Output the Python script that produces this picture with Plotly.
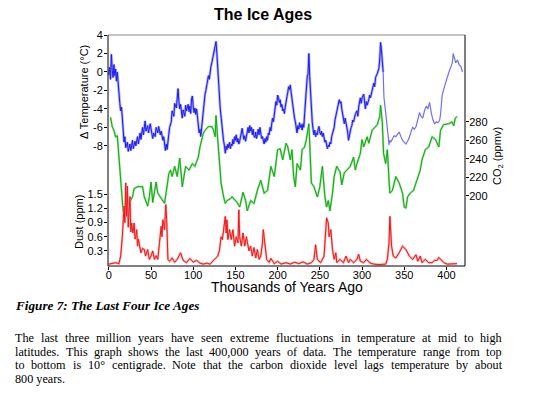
import plotly.graph_objects as go

# ---------------- data ----------------
temp_age = [0, 1, 2, 3, 4, 5, 6, 7, 8, 9, 10, 11, 12, 13, 14, 15, 16, 17, 18, 19, 20, 22, 23, 25, 26, 28, 29,
            31, 32, 34, 35, 37, 38, 40, 41, 43, 44, 46, 47, 49, 50, 52, 53, 55, 56, 58, 59, 61, 62, 64, 65,
            66, 67, 68, 69, 71, 72, 74, 75, 77, 78, 80, 81, 82, 83, 84, 85, 86, 87, 88, 90, 91, 92, 94, 95,
            96, 97, 98, 99, 100, 101, 102, 103, 104, 105, 106, 107, 108, 109, 110, 111, 112, 113, 114, 115,
            116, 117, 118, 119, 120, 121, 122, 123, 124, 125, 126, 127, 128, 128.5, 129, 130, 131, 132, 133,
            134, 135, 136, 137, 138, 139, 140, 141, 142, 143, 144, 145, 146, 147, 148, 149, 150, 151, 152,
            153, 154, 155, 156, 157, 158, 159, 160, 161, 162, 163, 164, 165, 166, 167, 168, 169, 170, 171,
            172, 173, 174, 175, 176, 177, 178, 179, 180, 181, 182, 183, 184, 185, 186, 187, 188, 189, 190,
            191, 192, 193, 194, 195, 196, 197, 198, 199, 200, 201, 202, 203, 204, 205, 206, 207, 208, 209,
            210, 211, 212, 213, 214, 215, 216, 217, 218, 219, 220, 221, 222, 223, 224, 225, 226, 227, 228,
            229, 230, 231, 232, 233, 234, 235, 236, 237, 238, 239, 240, 241, 242, 243, 244, 245, 246, 247,
            248, 249, 250, 251, 252, 253, 254, 255, 256, 257, 258, 259, 260, 261, 262, 263, 264, 265, 266,
            267, 268, 269, 270, 271, 272, 273, 274, 275, 276, 277, 278, 279, 280, 281, 282, 283, 284, 285,
            286, 287, 288, 289, 290, 292, 294, 295, 296, 298, 299, 300, 302, 303, 304, 305, 306, 308, 309,
            310, 312, 314, 315, 316, 318, 320, 321, 322, 323, 324, 325, 326, 328, 330, 331, 332, 333, 334,
            336, 338, 340, 342, 344, 346, 348, 350, 352, 354, 356, 358, 360, 362, 364, 366, 368, 370, 372,
            374, 376, 378, 380, 382, 384, 386, 388, 390, 392, 393, 395, 397, 399, 401, 403, 405, 407, 408,
            409, 411, 413, 415, 417, 419]
temp_val = [-0.3, 0.5, -0.8, 1.9, 0.2, -0.6, 0.8, -0.4, 0.3, -1.0, 0.0, -1.6, -2.2, -3.4, -4.2, -3.8, -5.0,
            -6.4, -7.6, -7.0, -8.2, -7.6, -8.6, -7.8, -8.5, -7.4, -8.3, -7.5, -8.0, -7.0, -7.8, -6.6, -7.3,
            -6.0, -6.8, -5.3, -6.4, -5.8, -6.6, -5.6, -6.2, -7.2, -6.6, -7.0, -6.0, -6.6, -5.9, -6.8, -6.4,
            -7.4, -7.0, -8.0, -8.5, -7.8, -8.4, -6.8, -6.0, -5.4, -4.2, -4.8, -3.4, -3.9, -2.4, -1.8, -3.2,
            -4.0, -3.5, -4.6, -5.0, -4.1, -4.8, -3.6, -4.2, -3.5, -4.3, -3.7, -4.5, -2.9, -2.6, -3.8, -4.4,
            -3.9, -4.6, -4.0, -5.2, -6.0, -6.6, -6.2, -7.0, -6.0, -5.0, -4.4, -3.0, -2.4, -2.0, -1.4, -1.0,
            -0.4, -0.8, 0.2, 0.6, 1.0, 1.5, 2.0, 2.4, 2.8, 3.3, 2.0, 1.0, 1.5, -0.5, -2.5, -4.0, -5.0, -6.0,
            -6.6, -7.5, -8.0, -8.8, -8.0, -8.4, -7.8, -8.2, -7.6, -8.3, -7.8, -8.0, -7.3, -7.8, -7.0, -7.4,
            -6.8, -7.6, -7.2, -7.8, -7.5, -7.0, -6.6, -6.1, -6.8, -7.3, -6.9, -7.5, -7.0, -6.5, -6.0, -6.6,
            -5.8, -6.4, -6.0, -6.8, -6.2, -6.9, -7.1, -6.5, -7.2, -6.8, -6.2, -6.8, -6.0, -6.6, -7.2, -7.0,
            -7.6, -7.8, -7.2, -7.6, -7.0, -7.4, -6.6, -6.8, -6.0, -6.4, -5.6, -5.0, -5.4, -4.8, -4.0, -3.2,
            -3.6, -2.5, -2.8, -3.3, -3.0, -3.8, -3.5, -4.2, -4.0, -4.5, -3.8, -3.0, -2.7, -2.2, -1.6, -1.9,
            -1.4, -2.2, -3.0, -3.8, -4.4, -5.0, -5.4, -6.0, -6.6, -5.8, -6.2, -5.5, -6.0, -5.7, -6.3, -5.6,
            -6.0, -4.5, -2.8, -2.0, -0.6, -0.2, 2.0, -0.5, -2.7, -4.0, -5.4, -6.2, -6.8, -6.3, -7.0, -6.6,
            -6.8, -6.2, -5.9, -6.5, -6.8, -6.4, -7.0, -6.6, -7.2, -7.6, -7.4, -8.0, -8.3, -7.9, -8.1, -7.6,
            -7.8, -7.0, -6.6, -6.2, -6.0, -5.2, -4.8, -4.4, -4.0, -3.6, -3.0, -3.4, -3.2, -4.0, -4.6, -5.2,
            -5.6, -5.0, -5.4, -6.0, -6.5, -7.4, -6.8, -6.2, -6.0, -5.8, -5.2, -5.4, -4.6, -4.2, -4.8, -3.8,
            -2.8, -3.4, -2.8, -2.4, -3.0, -4.0, -3.2, -3.6, -3.0, -2.5, -2.8, -1.8, -1.2, -1.6, -0.6, -0.2,
            0.4, 1.4, 3.2, 2.4, 1.5, 0.0, -2.8, -4.4, -5.8, -7.0, -7.9, -7.4, -7.6, -7.2, -6.9, -7.0, -6.7,
            -6.5, -7.0, -7.4, -7.6, -7.8, -7.5, -7.1, -6.5, -6.0, -6.2, -5.9, -5.2, -4.4, -4.8, -5.0, -4.2,
            -3.7, -4.0, -3.3, -4.4, -5.2, -5.6, -5.4, -5.5, -5.2, -4.6, -2.5, -1.8, -1.1, -0.4, 0.0, 0.5,
            1.0, 2.0, 1.6, 1.0, 1.3, 0.8, 0.6, 0.0]

co2_age = [2, 4, 6, 8, 10, 12, 13, 14, 15.5, 17, 20, 24, 28, 30, 34, 40, 42, 46, 48, 50, 52, 54, 56, 58,
           62, 66, 70, 71, 73, 75, 78, 81, 84, 87, 91, 95, 99, 102, 104, 106, 108, 112, 114, 118, 122, 124,
           126, 127, 129, 131, 133, 136, 138, 140, 144, 146, 152, 155, 159, 162, 164, 168, 172, 176, 180,
           184, 188, 192, 196, 200, 203, 206, 210, 212, 215, 217, 219, 221, 223, 227, 229, 232, 234, 237,
           238, 240, 243, 247, 250, 253, 256, 258, 260, 262, 265, 267, 270, 274, 276, 279, 282, 286, 290,
           292, 294, 298, 300, 302, 306, 308, 312, 314, 318, 321, 322, 324, 325.5, 328, 330, 332, 333, 336,
           340, 344, 348, 350, 352, 354, 357, 361, 365, 369, 371, 375, 379, 383, 387, 391, 393, 396.5,
           402.5, 406.6, 408.6, 410.5, 412.5]
co2_val = [285, 275, 271, 264, 265, 239, 237, 224, 203, 183, 188, 192, 199, 208, 210, 210, 199, 189, 199,
           215, 193, 203, 215, 203, 197, 192, 217, 224, 228, 221, 232, 221, 241, 210, 232, 228, 235, 232,
           237, 242, 253, 268, 271, 275, 275, 271, 264, 287, 261, 235, 214, 199, 192, 195, 197, 199, 193,
           188, 204, 195, 184, 195, 192, 206, 217, 203, 206, 232, 221, 250, 251, 239, 257, 253, 239, 250,
           221, 210, 235, 228, 250, 253, 261, 278, 253, 214, 210, 199, 210, 232, 199, 188, 195, 184, 203,
           221, 232, 226, 212, 225, 228, 232, 242, 228, 235, 246, 261, 253, 264, 257, 271, 273, 277, 286,
           298, 280, 246, 235, 250, 217, 203, 206, 221, 214, 203, 188, 187, 199, 203, 206, 217, 228, 239,
           250, 253, 264, 261, 253, 271, 277, 278, 280, 276, 284, 286]

dust_age = [0, 4, 8, 12, 14, 16, 18, 19, 20, 21, 22, 23, 24, 25, 26, 27, 28.5, 30, 31, 32, 33, 34, 35, 36,
            38, 40, 42, 43.5, 46, 48, 50, 52, 54, 56, 58, 60, 62, 63, 64, 66, 67.5, 68.5, 70, 72, 75, 78,
            81, 85, 88, 92, 96, 100, 104, 108, 112, 116, 120, 125, 129, 131, 133, 134.5, 136, 138, 139,
            140, 141, 143, 145, 147, 149, 151, 153, 154, 155, 157, 159, 161, 163, 166, 168, 170, 172, 174,
            176, 178, 180, 182, 183, 185, 187, 190, 192, 196, 200, 204, 210, 215, 220, 225, 230, 235, 240,
            243, 245, 247, 251, 255, 257, 258, 260, 261, 263, 265, 267, 269, 270, 274, 278, 281, 284, 286,
            290, 294, 296, 298, 302, 305, 310, 314, 320, 328, 330, 332, 333, 334, 335, 337, 340, 344, 348,
            352, 356, 360, 364, 366, 369, 371, 375, 379, 383, 386, 389, 391, 393, 397, 401, 408, 412.5]
dust_val = [0.02, 0.03, 0.05, 0.03, 0.19, 0.6, 1.25, 0.9, 1.74, 1.03, 1.67, 0.8, 1.2, 1.45, 0.7, 0.89,
            0.68, 0.89, 0.55, 0.6, 0.75, 0.4, 0.55, 0.47, 0.26, 0.35, 0.33, 0.19, 0.33, 0.12, 0.19, 0.3,
            0.12, 0.2, 0.12, 0.47, 0.82, 0.6, 0.96, 0.75, 1.28, 0.96, 0.12, 0.08, 0.15, 0.06, 0.12, 0.26,
            0.1, 0.05, 0.14, 0.06, 0.1, 0.04, 0.02, 0.04, 0.02, 0.12, 0.19, 0.3, 0.6, 0.54, 0.75, 1.03,
            0.68, 0.96, 0.54, 0.75, 0.54, 0.75, 0.4, 0.6, 0.47, 1.17, 0.6, 0.4, 0.68, 0.4, 0.6, 0.3, 0.4,
            0.19, 0.37, 0.15, 0.33, 0.12, 0.19, 0.47, 0.75, 0.47, 0.12, 0.06, 0.14, 0.03, 0.08, 0.02,
            0.05, 0.02, 0.06, 0.03, 0.07, 0.02, 0.05, 0.12, 0.43, 0.12, 0.05, 0.19, 0.75, 1.0, 0.89, 0.6,
            0.75, 0.33, 0.12, 0.26, 0.05, 0.12, 0.05, 0.19, 0.05, 0.12, 0.05, 0.12, 0.23, 0.08, 0.05,
            0.12, 0.04, 0.02, 0.01, 0.02, 0.12, 0.47, 1.03, 0.75, 0.4, 0.19, 0.15, 0.26, 0.4, 0.33, 0.19,
            0.12, 0.22, 0.08, 0.19, 0.05, 0.12, 0.05, 0.05, 0.1, 0.1, 0.16, 0.12, 0.05, 0.02, 0.02, 0.03]

x_ticks = [0, 50, 100, 150, 200, 250, 300, 350, 400]
temp_ticks = [-8, -6, -4, -2, 0, 2, 4]
temp_tick_text = ["-8", "-6", "-4", "-2", "0", "2", "4"]
co2_ticks = [200, 220, 240, 260, 280]
dust_ticks = [0.3, 0.6, 0.9, 1.2, 1.5]
dust_tick_text = ["0.3", "0.6", "0.9", "1.2", "1.5"]

title_text = "The Ice Ages"
x_title = "Thousands of Years Ago"
temp_title = "Δ Temperature (°C)"
dust_title = "Dust (ppm)"
co2_title = "CO<sub>2</sub> (ppmv)"
caption = "<b><i>Figure 7: The Last Four Ice Ages</i></b>"
paragraph = [
    "The last three million years have seen extreme fluctuations in temperature at mid to high",
    "latitudes. This graph shows the last 400,000 years of data. The temperature range from top",
    "to bottom is 10° centigrade. Note that the carbon dioxide level lags temperature by about",
    "800 years.",
]

# ---------------- figure ----------------
W, H = 553, 393
L, R, T, B = 108, 465, 35, 266
def px(x):
    return (x - L) / (R - L)
def py(y):
    return (B - y) / (B - T)

SANS = "Liberation Sans, Arial, sans-serif"
SERIF = "Liberation Serif, Times New Roman, serif"

# older, sparser part of the temperature record is drawn lighter
split = next(i for i, a in enumerate(temp_age) if a >= 325)

fig = go.Figure()
fig.add_trace(go.Scatter(x=temp_age[:split + 1], y=temp_val[:split + 1], mode="lines", yaxis="y",
                         line=dict(color="#a8a8ff", width=2.6), hoverinfo="skip", showlegend=False))
fig.add_trace(go.Scatter(x=co2_age, y=co2_val, mode="lines", yaxis="y2",
                         line=dict(color="#9fe09f", width=2.2), hoverinfo="skip", showlegend=False))
fig.add_trace(go.Scatter(x=dust_age, y=dust_val, mode="lines", yaxis="y3",
                         line=dict(color="#ffa8a8", width=2.2), hoverinfo="skip", showlegend=False))
fig.add_trace(go.Scatter(x=temp_age[:split + 1], y=temp_val[:split + 1], mode="lines", yaxis="y",
                         line=dict(color="#1c1cf0", width=1), showlegend=False))
fig.add_trace(go.Scatter(x=temp_age[split:], y=temp_val[split:], mode="lines", yaxis="y",
                         line=dict(color="#6f6ff8", width=1.2), showlegend=False))
fig.add_trace(go.Scatter(x=co2_age, y=co2_val, mode="lines", yaxis="y2",
                         line=dict(color="#12a812", width=1), showlegend=False))
fig.add_trace(go.Scatter(x=dust_age, y=dust_val, mode="lines", yaxis="y3",
                         line=dict(color="#f01818", width=1), showlegend=False))

tickfont = dict(family=SANS, size=11, color="#000")
common = dict(ticks="outside", ticklen=3, tickcolor="#000", showgrid=False, zeroline=False,
              showline=False, tickfont=tickfont, automargin=False)
fig.update_layout(
    template="none",
    width=W, height=H,
    margin=dict(l=L, r=W - R, t=T, b=H - B, pad=0, autoexpand=False),
    paper_bgcolor="white", plot_bgcolor="white",
    xaxis=dict(range=[-1, 422], tickvals=x_ticks, ticklabelstandoff=-4, **common),
    yaxis=dict(range=[-21, 4], tickvals=temp_ticks, ticktext=temp_tick_text, ticklabelstandoff=-1,
               **common),
    yaxis2=dict(range=[124.3, 374], tickvals=co2_ticks, overlaying="y", side="right",
                ticklabelstandoff=-2, **common),
    yaxis3=dict(range=[-0.02, 4.87], tickvals=dust_ticks, ticktext=dust_tick_text,
                overlaying="y", side="left", ticklabelstandoff=-1, **common),
    shapes=[
        dict(type="line", xref="paper", yref="paper", x0=0, x1=1, y0=1, y1=1,
             line=dict(color="#8a8a8a", width=1)),
        dict(type="line", xref="paper", yref="paper", x0=0, x1=0, y0=0, y1=1,
             line=dict(color="#000", width=1)),
        dict(type="line", xref="paper", yref="paper", x0=1, x1=1, y0=0, y1=1,
             line=dict(color="#000", width=1)),
        dict(type="line", xref="paper", yref="paper", x0=0, x1=1, y0=0, y1=0,
             line=dict(color="#000", width=1)),
    ],
)

def text_ann(text, cx, cy, size, family=SANS, angle=0, xanchor="center"):
    return dict(text=text, x=px(cx), y=py(cy), xref="paper", yref="paper", showarrow=False,
                xanchor=xanchor, yanchor="middle", textangle=angle,
                font=dict(family=family, size=size, color="#000"))

ann = [
    text_ann("<b>" + title_text + "</b>", 263, 14, 16),
    text_ann(x_title, 287, 287, 14),
    text_ann(temp_title, 84, 92, 11, angle=-90),
    text_ann(dust_title, 79, 222, 11, angle=-90),
    text_ann(co2_title, 498, 156, 11, angle=-90),
    text_ann(caption, 13, 305, 13.2, family=SERIF, xanchor="left"),
]

# justified paragraph: word widths from Times metrics (per 1000 em)
TW = {" ": 250, ",": 250, ".": 250, ":": 278, "°": 400, "A": 722, "F": 556, "I": 333, "L": 611,
      "N": 722, "T": 611, "a": 444, "b": 500, "c": 444, "d": 500, "e": 444, "f": 333, "g": 500,
      "h": 500, "i": 278, "j": 278, "k": 500, "l": 278, "m": 778, "n": 500, "o": 500, "p": 500,
      "q": 500, "r": 333, "s": 389, "t": 278, "u": 500, "v": 500, "w": 722, "x": 500, "y": 500,
      "z": 444}
FS = 12.2
X0, X1 = 13, 500
def wwidth(w):
    return sum(TW.get(c, 500) for c in w) * FS / 1000.0

for i, line in enumerate(paragraph):
    yy = 338 + i * 13.7
    words = line.split()
    if i == len(paragraph) - 1:
        ann.append(text_ann(line, X0, yy, FS, family=SERIF, xanchor="left"))
        continue
    widths = [wwidth(w) for w in words]
    gap = (X1 - X0 - sum(widths)) / (len(words) - 1)
    x = X0
    for w, wd in zip(words, widths):
        ann.append(text_ann(w, x, yy, FS, family=SERIF, xanchor="left"))
        x += wd + gap

fig.update_layout(annotations=ann)
fig.write_html("out.html", config={"displayModeBar": False},
               post_script="document.body.style.margin='0';")
